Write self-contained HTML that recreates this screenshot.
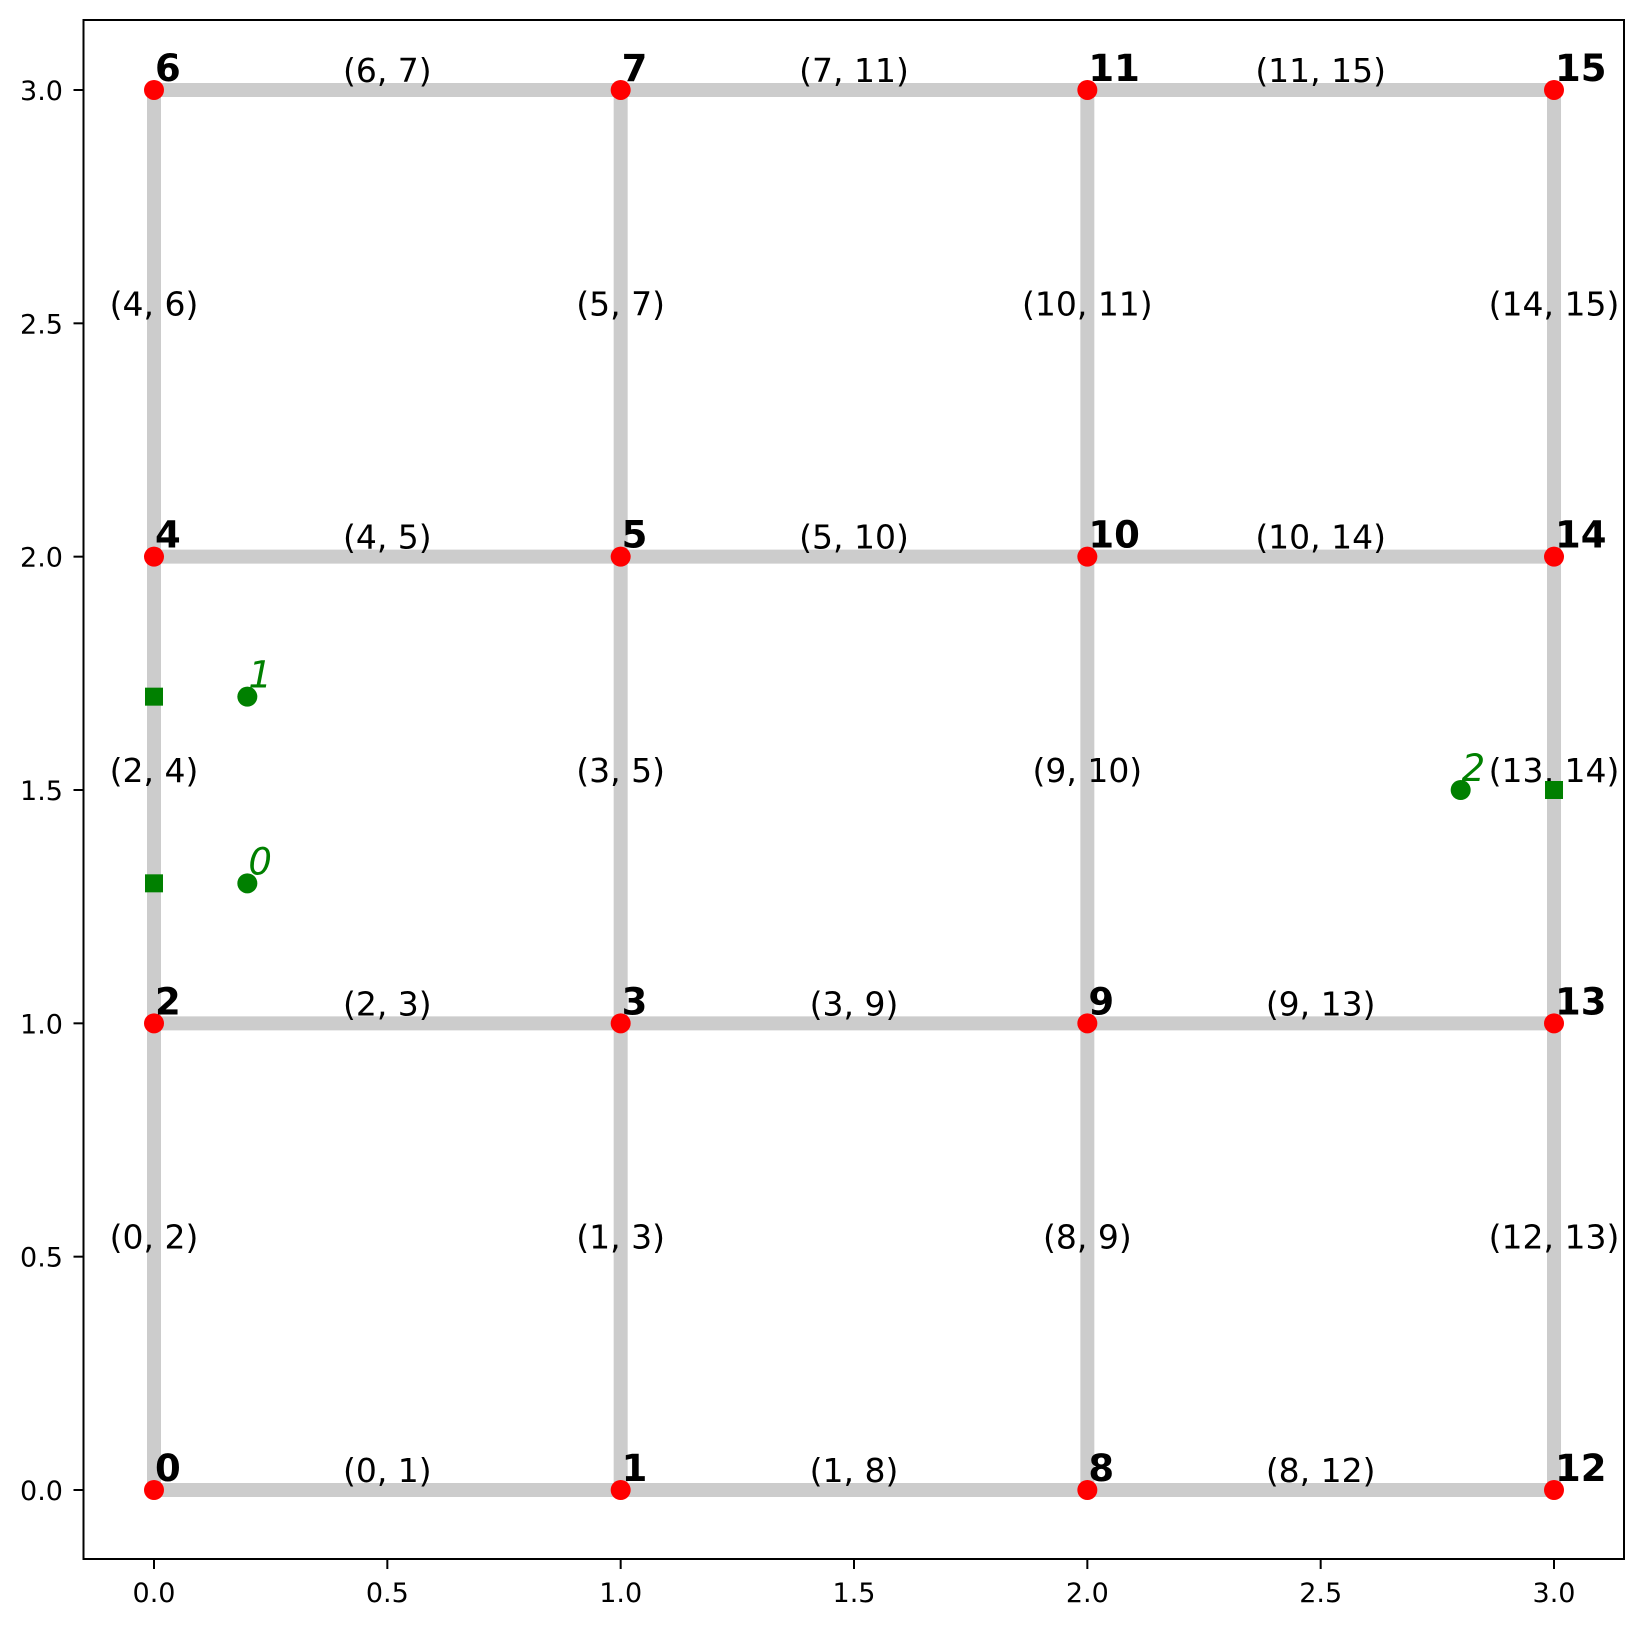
<!DOCTYPE html>
<html><head><meta charset="utf-8"><style>
html,body{margin:0;padding:0;background:#fff;}
svg{display:block;font-family:"DejaVu Sans","Liberation Sans",sans-serif;}
</style></head><body>
<svg id="chart" width="1643" height="1627" xmlns="http://www.w3.org/2000/svg"></svg>
<script>
const nodeIds=[0,1,2,3,4,5,6,7,8,9,10,11,12,13,14,15];
const nodeX=[0,1,0,1,0,1,0,1,2,2,2,2,3,3,3,3];
const nodeY=[0,0,1,1,2,2,3,3,0,1,2,3,0,1,2,3];
const edges=[[0,1],[0,2],[1,3],[1,8],[2,3],[2,4],[3,5],[3,9],[4,5],[4,6],[5,7],[5,10],[6,7],[7,11],[8,9],[8,12],[9,10],[9,13],[10,11],[10,14],[11,15],[12,13],[13,14],[14,15]];
const markerIds=[0,1,2];
const squareX=[0,0,3];
const squareY=[1.3,1.7,1.5];
const circleX=[0.2,0.2,2.8];
const circleY=[1.3,1.7,1.5];
const xTicks=[0,0.5,1,1.5,2,2.5,3];
const yTicks=[0,0.5,1,1.5,2,2.5,3];
const xTickLabels=["0.0","0.5","1.0","1.5","2.0","2.5","3.0"];
const yTickLabels=["0.0","0.5","1.0","1.5","2.0","2.5","3.0"];

const NS="http://www.w3.org/2000/svg";
const svg=document.getElementById('chart');
const L=83.5,R=1624,T=20,B=1559;
const sx=v=>154+v*466.67;
const sy=v=>1490-v*466.67;
function mk(tag,attrs,parent){const e=document.createElementNS(NS,tag);for(const k in attrs)e.setAttribute(k,attrs[k]);(parent||svg).appendChild(e);return e;}

edges.forEach(([a,b])=>{
  const l=mk('line',{x1:sx(nodeX[a]),y1:sy(nodeY[a]),x2:sx(nodeX[b]),y2:sy(nodeY[b]),stroke:'#cccccc','stroke-width':14});
  
  
});
edges.forEach(([a,b])=>{
  const mx=(sx(nodeX[a])+sx(nodeX[b]))/2, my=(sy(nodeY[a])+sy(nodeY[b]))/2;
  const t=mk('text',{x:mx,y:my-8,'font-size':33,'text-anchor':'middle',fill:'#000'});
  t.textContent='('+a+', '+b+')';
  
  
});
nodeIds.forEach((id,i)=>{
  const c=mk('circle',{cx:sx(nodeX[i]),cy:sy(nodeY[i]),r:10,fill:'#ff0000'});
  
  
});
nodeIds.forEach((id,i)=>{
  const t=mk('text',{x:sx(nodeX[i])+1,y:sy(nodeY[i])-9,'font-size':37,'font-weight':'bold',fill:'#000'});
  t.textContent=String(id);
  
  
});
markerIds.forEach((id,i)=>{
  const s=mk('rect',{x:sx(squareX[i])-9,y:sy(squareY[i])-9,width:18,height:18,fill:'#008000'});
  
  
  const c=mk('circle',{cx:sx(circleX[i]),cy:sy(circleY[i]),r:10,fill:'#008000'});
  
  
  const t=mk('text',{x:sx(circleX[i])+1,y:sy(circleY[i])-9,'font-size':37,'font-style':'italic',fill:'#008000'});
  t.textContent=String(id);
  
  
});
const fr=mk('rect',{x:L,y:T,width:R-L,height:B-T,fill:'none',stroke:'#000','stroke-width':2});


xTicks.forEach((v,i)=>{
  mk('line',{x1:sx(v),y1:B,x2:sx(v),y2:B+10,stroke:'#000','stroke-width':2});
  const t=mk('text',{x:sx(v),y:1602,'font-size':27,'text-anchor':'middle',fill:'#000'});
  t.textContent=xTickLabels[i];
  
  
});
yTicks.forEach((v,i)=>{
  mk('line',{x1:L-10,y1:sy(v),x2:L,y2:sy(v),stroke:'#000','stroke-width':2});
  const t=mk('text',{x:63,y:sy(v)+10,'font-size':27,'text-anchor':'end',fill:'#000'});
  t.textContent=yTickLabels[i];
  
  
});
</script>
</body></html>
